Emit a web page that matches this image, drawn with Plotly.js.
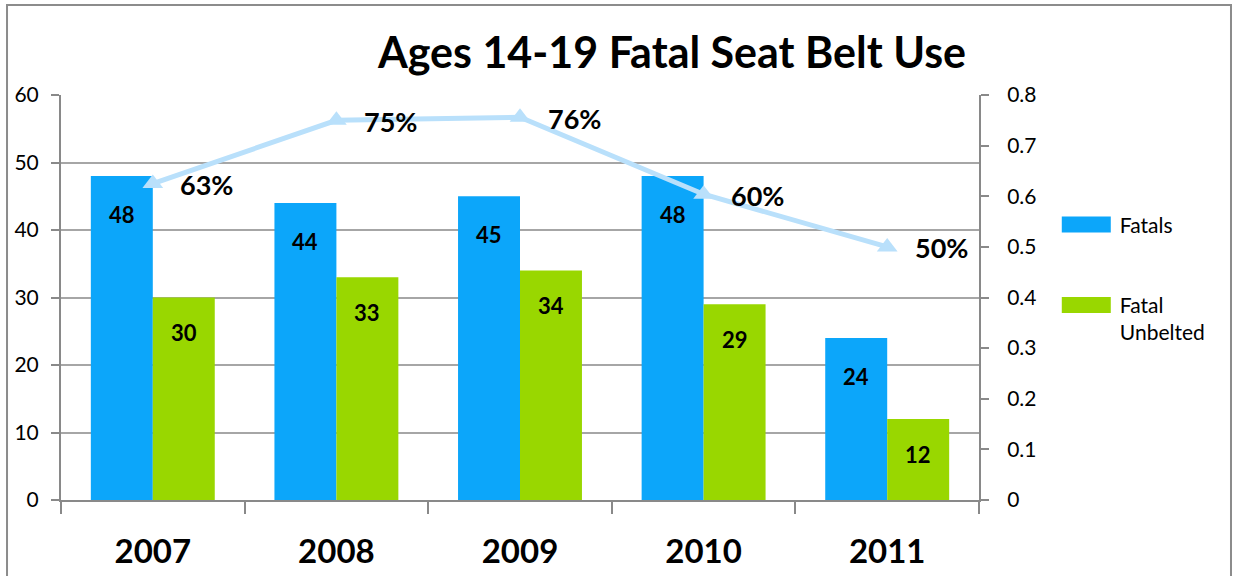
<!DOCTYPE html>
<html><head><meta charset="utf-8">
<script src="https://cdn.plot.ly/plotly-3.0.1.min.js"></script>
<style>html,body{margin:0;padding:0;background:#fff;}#c{width:1233px;height:576px;}</style>
</head><body><div id="c"></div>
<script>
const years = ['2007','2008','2009','2010','2011'];
const fatals = [48, 44, 45, 48, 24];
const unbelted = [30, 33, 34, 29, 12];
const unbeltedRate = [0.625, 0.75, 0.756, 0.604, 0.50];
const rateLabels = ['63%','75%','76%','60%','50%'];

const FONT = 'Lato, "Open Sans", sans-serif';
const blue = '#0ca6fa', green = '#99d700', lineC = '#b9e0fb';

const traces = [
  {type:'bar', x:years, y:fatals, name:'Fatals', marker:{color:blue}, legendgroup:'a', hoverinfo:'none'},
  {type:'bar', x:years, y:unbelted, name:'Fatal<br>Unbelted', marker:{color:green}, legendgroup:'b', hoverinfo:'none'},
  {type:'scatter', mode:'lines+markers', x:years, y:unbeltedRate, yaxis:'y2', showlegend:false,
   line:{color:lineC, width:5}, marker:{symbol:'triangle-up', size:18, color:lineC}, hoverinfo:'none'}
];

// annotations use the category index (numeric-looking category names would be read as positions)
const ann = [];
years.forEach((yr,i)=>{
  ann.push({x:i, y:fatals[i], xref:'x', yref:'y', text:String(fatals[i]), showarrow:false,
    xshift:-31, yshift:-38, font:{family:FONT, size:22, color:'#000', weight:700}});
  ann.push({x:i, y:unbelted[i], xref:'x', yref:'y', text:String(unbelted[i]), showarrow:false,
    xshift:31, yshift:-35, font:{family:FONT, size:22, color:'#000', weight:700}});
  ann.push({x:i, y:unbeltedRate[i], xref:'x', yref:'y2', text:rateLabels[i], showarrow:false,
    xshift:54, yshift:-1, font:{family:FONT, size:27, color:'#000', weight:700}});
});

const layout = {
  width:1233, height:576,
  margin:{l:61, r:254, t:95, b:76},
  paper_bgcolor:'#fff', plot_bgcolor:'#fff',
  font:{family:FONT, color:'#000'},
  title:{text:'Ages 14-19 Fatal Seat Belt Use', xref:'container', yref:'container', x:0.545, xanchor:'center', y:0.908, yanchor:'middle',
    font:{family:FONT, size:43, weight:700, color:'#000'}},
  barmode:'group', bargap:0.325, bargroupgap:0,
  xaxis:{type:'category', range:[-0.5,4.5], tickson:'boundaries', ticks:'outside', ticklen:12, tickcolor:'#898989', tickwidth:2,
    showline:true, linecolor:'#898989', linewidth:2, showgrid:false,
    tickfont:{family:FONT, size:33, weight:700, color:'#000'}, ticklabelstandoff:21},
  yaxis:{range:[0,60], dtick:10, ticks:'outside', ticklen:8, tickcolor:'#898989', tickwidth:2,
    showline:true, linecolor:'#898989', linewidth:2, gridcolor:'#a6a6a6', gridwidth:2, zeroline:false,
    tickfont:{family:FONT, size:21, color:'#000'}, ticklabelstandoff:8},
  yaxis2:{range:[0,0.8], dtick:0.1, overlaying:'y', side:'right', ticks:'outside', ticklen:8, tickcolor:'#898989', tickwidth:2,
    showline:true, linecolor:'#898989', linewidth:2, showgrid:false, zeroline:false,
    tickfont:{family:FONT, size:21, color:'#000'}, ticklabelstandoff:14},
  legend:{x:1.088, xanchor:'left', y:0.73, yanchor:'top', traceorder:'grouped', tracegroupgap:50,
    font:{family:FONT, size:21, color:'#000'}, itemwidth:50, bgcolor:'rgba(0,0,0,0)'},
  annotations:ann,
  shapes:[{type:'rect', xref:'paper', yref:'paper', x0:-0.0588, x1:1.2745, y0:-0.2, y1:1.222,
    line:{color:'#8c8c8c', width:2}, fillcolor:'rgba(0,0,0,0)', layer:'below'}]
};

Plotly.newPlot('c', traces, layout, {displayModeBar:false, staticPlot:true}).then(gd=>{
  // widen the legend swatches to the wide bar-style keys of the original,
  // aligned with the first text line of each entry
  gd.querySelectorAll('.legend .traces').forEach(tr=>{
    const lines = tr.querySelectorAll('.legendtext tspan.line').length || 1;
    const dy = -(lines - 1) * 13.5;
    tr.querySelectorAll('.legendpoints path').forEach(p=>{
      p.setAttribute('d','M-28,' + (dy-8) + 'H21V' + (dy+8) + 'H-28Z');
    });
  });
});
</script></body></html>
